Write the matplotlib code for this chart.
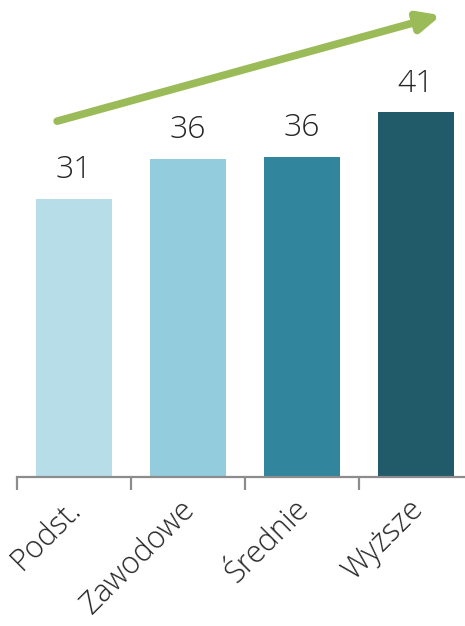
import matplotlib
matplotlib.use("Agg")
import matplotlib.pyplot as plt
import matplotlib.transforms as mtransforms

# Education level vs value
categories = ["Podst.", "Zawodowe", "Średnie", "Wyższe"]
values = [31.0, 35.5, 35.7, 40.7]
colors = ["#b7dde8", "#93cddd", "#31859c", "#215a69"]

plt.rcParams["font.family"] = ["Open Sans", "DejaVu Sans"]

fig = plt.figure(figsize=(4.65, 6.26), dpi=100)
ax = fig.add_axes([17 / 465, 149 / 626, 456 / 465, 477 / 626])

x = range(len(categories))
bars = ax.bar(x, values, width=0.667, color=colors)

for b, v in zip(bars, values):
    ax.text(b.get_x() + b.get_width() / 2, v + 1.4, f"{v:.0f}",
            ha="center", va="bottom", fontsize=23, color="#262626",
            fontweight="light")

ax.set_xlim(-0.5, len(categories) - 0.5)
ax.set_ylim(0, 53.2)

for s in ["top", "right", "left"]:
    ax.spines[s].set_visible(False)
ax.spines["bottom"].set_color("#8c8c8c")
ax.spines["bottom"].set_linewidth(1.6)
ax.set_yticks([])

ax.set_xticks(list(x))
ax.set_xticklabels(categories, rotation=45, ha="right", va="top",
                   rotation_mode="anchor", fontsize=22, color="#262626",
                   fontweight="light")
ax.tick_params(axis="x", which="major", length=0, pad=12)
shift = mtransforms.ScaledTranslation(-0.09, 0, fig.dpi_scale_trans)
for lbl in ax.get_xticklabels():
    lbl.set_transform(lbl.get_transform() + shift)
ax.set_xticks([i - 0.5 for i in range(len(categories) + 1)], minor=True)
ax.tick_params(axis="x", which="minor", length=9, width=1.6, color="#8c8c8c")

# trend arrow
ax.annotate("", xy=(0.93, 0.968), xytext=(0.088, 0.746),
            xycoords="axes fraction", textcoords="axes fraction",
            arrowprops=dict(arrowstyle="-|>,head_length=1.3,head_width=0.6",
                            color="#9bbb59", lw=5.5, shrinkA=0, shrinkB=0))

fig.savefig("out.png", dpi=100)
